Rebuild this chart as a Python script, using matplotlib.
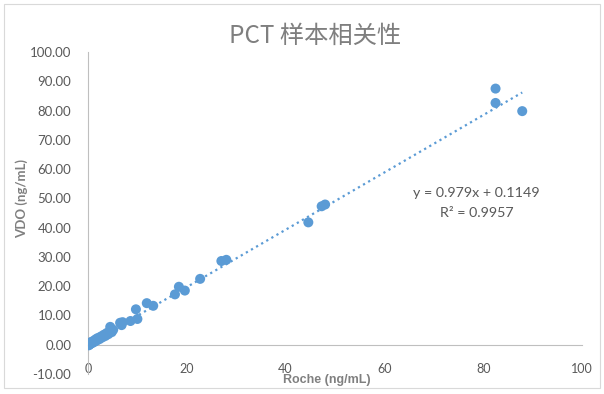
import numpy as np
import matplotlib
matplotlib.use('Agg')
import matplotlib.pyplot as plt
from matplotlib.patches import Rectangle

# Roche vs VDO measurements (ng/mL)
roche = [0.0, 0.1, 0.2, 0.3, 0.4, 0.5, 0.6, 0.8, 1.0, 1.2, 1.4, 1.6, 1.8,
         2.0, 2.3, 2.6, 2.9, 3.2, 3.5, 3.8, 4.1, 4.4, 0.05, 0.15,
         4.5, 5.1, 4.8, 6.5, 6.8, 7.0, 8.6, 9.7, 10.0, 11.9, 13.2,
         17.6, 18.4, 19.6, 22.7, 27.0, 28.0, 44.6, 47.3, 48.0,
         82.5, 82.5, 87.9]
vdo = [0.0, 0.3, 0.0, 0.5, 0.2, 0.8, 0.4, 1.0, 0.7, 1.4, 1.1, 1.9, 1.5,
       2.3, 1.9, 2.8, 2.5, 3.4, 3.0, 4.0, 3.6, 4.6, 0.6, -0.2,
       6.1, 5.1, 4.3, 7.5, 6.7, 7.7, 8.1, 12.1, 8.8, 14.2, 13.3,
       17.2, 19.8, 18.5, 22.5, 28.6, 29.0, 41.8, 47.3, 47.9,
       87.5, 82.6, 79.8]

slope = 0.979
intercept = 0.1149
r2 = 0.9957

title = 'PCT 样本相关性'
x_ticks = [0, 20, 40, 60, 80, 100]
y_ticks = [-10, 0, 10, 20, 30, 40, 50, 60, 70, 80, 90, 100]

blue = '#5B9BD5'
txt = '#595959'

fig = plt.figure(figsize=(6.04, 3.94), dpi=100)
fig.patches.append(Rectangle((4/604, 1-388/394), 596/604, 384/394,
                             transform=fig.transFigure, fill=False,
                             edgecolor='#D9D9D9', lw=0.8))

ax = fig.add_axes([88/604, 1-374/394, 494/604, 322/394])
ax.set_xlim(0, 100)
ax.set_ylim(-10, 100)

xs = np.array([min(roche), max(roche)])
ax.plot(xs, slope*xs + intercept, ':', color=blue, lw=1.6, zorder=2)
ax.scatter(roche, vdo, s=52, color=blue, edgecolors='none', zorder=3)

for s in ['top', 'right']:
    ax.spines[s].set_visible(False)
ax.spines['bottom'].set_position(('data', 0))
for s in ['left', 'bottom']:
    ax.spines[s].set_color('#BFBFBF')
    ax.spines[s].set_linewidth(0.8)

ax.set_xticks(x_ticks)
ax.set_xticklabels([str(v) for v in x_ticks], fontfamily='Lato', fontsize=9, color=txt)
ax.set_yticks(y_ticks)
ax.set_yticklabels([f'{v:.2f}' for v in y_ticks], fontfamily='Lato', fontsize=9.5, color=txt)
ax.tick_params(axis='x', length=0, pad=13)
ax.tick_params(axis='y', length=0, pad=12)

ax.set_xlabel('Roche (ng/mL)', fontfamily='Liberation Sans', fontweight='bold',
              fontsize=9, color='#808080', va='center')
ax.xaxis.set_label_coords((327-88)/494, (374-380)/322)
ax.set_ylabel('VDO (ng/mL)', fontfamily='Lato', fontweight='bold',
              fontsize=9.5, color='#808080', va='center')
ax.yaxis.set_label_coords((22-88)/494, (374-199)/322)

ax.text(78.7, 51.7, f'y = {slope}x + {intercept}', fontfamily='Lato',
        fontsize=10.3, color=txt, ha='center', va='center')
ax.text(78.7, 44.9, f'R² = {r2}', fontfamily='Lato',
        fontsize=10.3, color=txt, ha='center', va='center')

fig.text(315/604, 1-36/394, title, fontfamily=['Noto Sans CJK SC', 'DejaVu Sans'],
         fontsize=17.5, color='#7F7F7F', ha='center', va='center')

fig.savefig('out.png', dpi=100)
